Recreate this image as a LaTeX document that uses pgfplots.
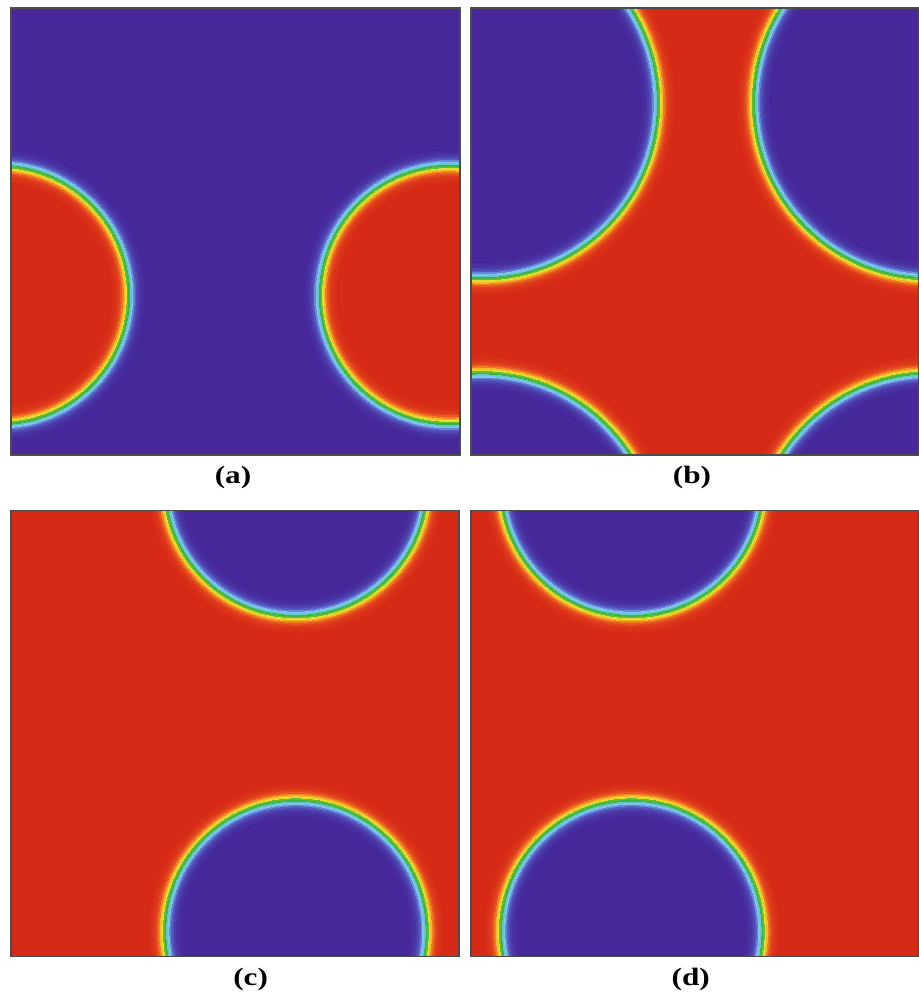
\documentclass[border=0pt]{standalone}
\usepackage{pgfplots}
\usepackage{pgfplotstable}
\pgfplotsset{compat=1.18}
\usepackage{fontspec}
\setmainfont{Liberation Serif}
\usepackage{graphicx}

% order parameter colour scale: matrix phase (blue) -> droplet phase (red)
\definecolor{phB}{RGB}{70,40,155}
\definecolor{L1}{RGB}{71,45,158}
\definecolor{L2}{RGB}{72,47,161}
\definecolor{L3}{RGB}{74,52,164}
\definecolor{L4}{RGB}{76,60,170}
\definecolor{L5}{RGB}{80,72,179}
\definecolor{L6}{RGB}{86,91,193}
\definecolor{L7}{RGB}{100,135,220}
\definecolor{L8}{RGB}{130,195,238}
\definecolor{L9}{RGB}{100,200,200}
\definecolor{L10}{RGB}{60,180,75}
\definecolor{L11}{RGB}{100,190,45}
\definecolor{L12}{RGB}{225,222,48}
\definecolor{L13}{RGB}{247,185,40}
\definecolor{L14}{RGB}{240,128,33}
\definecolor{L15}{RGB}{232,90,31}
\definecolor{L16}{RGB}{226,70,29}
\definecolor{L17}{RGB}{221,57,26}
\definecolor{L18}{RGB}{219,53,25}
\definecolor{L19}{RGB}{217,49,24}
\definecolor{L20}{RGB}{216,46,24}
\definecolor{phR}{RGB}{214,42,23}

% diffuse interface: offset from the mid contour (levels) / level colour
\def\layersRed{10/L1,9/L2,8/L3,7/L4,6/L5,5/L6,4/L7,3/L8,2/L9,1/L10,0/L11,-1/L12,-2/L13,-3/L14,-4/L15,-5/L16,-6/L17,-7/L18,-8/L19,-9/L20,-10/phR}
\def\layersBlue{10/L20,9/L19,8/L18,7/L17,6/L16,5/L15,4/L14,3/L13,2/L12,1/L11,0/L10,-1/L9,-2/L8,-3/L7,-4/L6,-5/L5,-6/L4,-7/L3,-8/L2,-9/L1,-10/phB}

% droplet centres (domain = unit square, periodic images included)
\pgfplotstableread{
x y
-0.0245 0.358
0.9755 0.358
}\dropA
\pgfplotstableread{
x y
0.0246 0.789
1.0246 0.789
0.0246 -0.211
1.0246 -0.211
}\dropB
\pgfplotstableread{
x y
0.636 0.057
0.636 1.057
}\dropC
\pgfplotstableread{
x y
0.359 0.057
0.359 1.057
}\dropD

% #1 centres, #2 radius (fraction of domain width), #3 layer list
\newcommand{\droplets}[3]{%
  \foreach \d/\c in #3 {%
    \pgfmathsetmacro\ms{#2*224+\d*0.8}%
    \edef\tmp{\noexpand\addplot[only marks, mark=*, mark size=\ms pt,
      color=\c, mark options={line width=0pt}] table {\noexpand#1};}%
    \tmp
  }%
}

\pgfplotsset{
  field/.style={
    scale only axis, width=224pt, height=223pt,
    xmin=0, xmax=1, ymin=0, ymax=1,
    xtick=\empty, ytick=\empty,
    axis line style={line width=0.6pt, black!70},
    anchor=north west, clip=false,
  },
  frame/.style={field, axis background/.style={}},
}

\begin{document}
\begin{tikzpicture}
\path[use as bounding box] (0,0) rectangle (459.5pt,498.5pt);
\fill[white] (0,0) rectangle (459.5pt,498.5pt);

% (a)
\begin{scope}
\clip (5.5pt,271pt) rectangle (230pt,494.5pt);
\begin{axis}[field, at={(5.5pt,494.5pt)}, width=224.5pt, height=223.5pt,
  axis background/.style={fill=phB}]
  \droplets{\dropA}{0.2857}{\layersRed}
\end{axis}
\end{scope}
\begin{axis}[frame, at={(5.5pt,494.5pt)}, width=224.5pt, height=223.5pt]
\end{axis}

% (b)
\begin{scope}
\clip (235.5pt,271pt) rectangle (459.5pt,494.5pt);
\begin{axis}[field, at={(235.5pt,494.5pt)}, height=223.5pt,
  axis background/.style={fill=phR}]
  \droplets{\dropB}{0.393}{\layersBlue}
\end{axis}
\end{scope}
\begin{axis}[frame, at={(235.5pt,494.5pt)}, height=223.5pt]
\end{axis}

% (c)
\begin{scope}
\clip (5.5pt,20.15pt) rectangle (229.5pt,243.15pt);
\begin{axis}[field, at={(5.5pt,243.15pt)},
  axis background/.style={fill=phR}]
  \droplets{\dropC}{0.292}{\layersBlue}
\end{axis}
\end{scope}
\begin{axis}[frame, at={(5.5pt,243.15pt)}]
\end{axis}

% (d)
\begin{scope}
\clip (235.5pt,20.15pt) rectangle (459.5pt,243.15pt);
\begin{axis}[field, at={(235.5pt,243.15pt)},
  axis background/.style={fill=phR}]
  \droplets{\dropD}{0.292}{\layersBlue}
\end{axis}
\end{scope}
\begin{axis}[frame, at={(235.5pt,243.15pt)}]
\end{axis}

\node[font=\fontsize{12.5}{14}\selectfont\bfseries] at (116.5pt,260pt) {\scalebox{1.25}[1]{(a)}};
\node[font=\fontsize{12.5}{14}\selectfont\bfseries] at (346pt,260pt) {\scalebox{1.25}[1]{(b)}};
\node[font=\fontsize{12.5}{14}\selectfont\bfseries] at (125.3pt,9pt) {\scalebox{1.25}[1]{(c)}};
\node[font=\fontsize{12.5}{14}\selectfont\bfseries] at (345.4pt,9pt) {\scalebox{1.25}[1]{(d)}};
\end{tikzpicture}
\end{document}
